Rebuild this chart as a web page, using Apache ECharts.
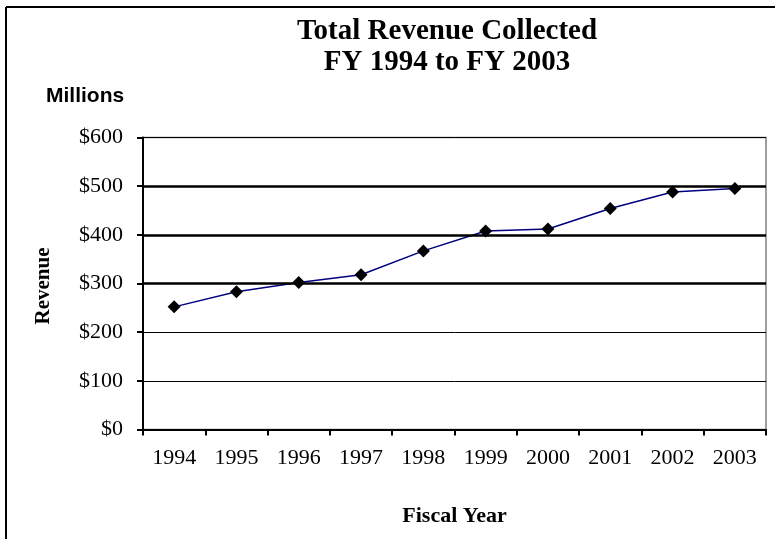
<!DOCTYPE html>
<html>
<head>
<meta charset="utf-8">
<script src="https://cdn.jsdelivr.net/npm/echarts@6/dist/echarts.min.js"></script>
<style>
  html, body { margin: 0; padding: 0; background: #fff; }
  #chart { width: 775px; height: 539px; }
</style>
</head>
<body>
<div id="chart"></div>
<script>
// data
const years = ['1994', '1995', '1996', '1997', '1998', '1999', '2000', '2001', '2002', '2003']
const revenue = [252, 283, 302, 318, 367, 408, 412, 454, 488, 495]
const yMin = 0
const yMax = 600
const yStep = 100
// gridlines drawn heavier in the original
const heavyLines = [300, 400, 500]

const serif = '"Liberation Serif", "Times New Roman", serif'
const sans = '"Liberation Sans", Arial, sans-serif'

const chart = echarts.init(document.getElementById('chart'), null, { renderer: 'canvas' })

chart.setOption({
    backgroundColor: '#fff',
    animation: false,
    title: {
        text: 'Total Revenue Collected\nFY 1994 to FY 2003',
        left: 442,
        top: 11,
        textAlign: 'center',
        textStyle: { fontFamily: serif, fontWeight: 'bold', fontSize: 29, lineHeight: 31, color: '#000' }
    },
    grid: {
        left: 143, right: 9, top: 137.5, bottom: 109.5,
        show: true, borderColor: '#808080', borderWidth: 1.5, backgroundColor: 'transparent'
    },
    xAxis: {
        type: 'category',
        data: years,
        boundaryGap: true,
        name: 'Fiscal Year',
        nameLocation: 'middle',
        nameGap: 76,
        nameTextStyle: { fontFamily: serif, fontWeight: 'bold', fontSize: 22, color: '#000' },
        axisLine: { lineStyle: { color: '#000', width: 2 } },
        axisTick: { show: true, length: 6, lineStyle: { color: '#000', width: 2 } },
        axisLabel: { fontFamily: serif, fontSize: 22, color: '#000', margin: 18 },
        splitLine: { show: false }
    },
    yAxis: {
        type: 'value',
        min: yMin, max: yMax, interval: yStep,
        axisLine: { show: true, lineStyle: { color: '#000', width: 2 } },
        axisTick: { show: true, length: 6, lineStyle: { color: '#000', width: 2 } },
        axisLabel: {
            fontFamily: serif, fontSize: 22, color: '#000', margin: 20,
            formatter: v => '$' + v
        },
        splitLine: { show: true, lineStyle: { color: '#000', width: 1 } }
    },
    graphic: [
        // outer frame (top and left edges only visible)
        { type: 'line', shape: { x1: 6, y1: 7, x2: 775, y2: 7 }, style: { stroke: '#000', lineWidth: 2 } },
        { type: 'line', shape: { x1: 6, y1: 7, x2: 6, y2: 539 }, style: { stroke: '#000', lineWidth: 2 } },
        {
            type: 'text', left: 46, top: 86,
            style: { text: 'Millions', font: 'bold 21px ' + sans, fill: '#000' }
        },
        {
            type: 'text', x: 44, y: 286, rotation: Math.PI / 2,
            style: {
                text: 'Revenue', font: 'bold 21px ' + serif, fill: '#000',
                textAlign: 'center', textVerticalAlign: 'middle'
            }
        }
    ],
    series: [{
        type: 'line',
        data: revenue,
        symbol: 'diamond',
        symbolSize: 13,
        itemStyle: { color: '#000' },
        lineStyle: { color: '#000080', width: 1.5 },
        markLine: {
            silent: true,
            symbol: 'none',
            label: { show: false },
            lineStyle: { color: '#000', width: 2.5, type: 'solid' },
            data: heavyLines.map(v => ({ yAxis: v }))
        },
        z: 3
    }]
})
</script>
</body>
</html>
